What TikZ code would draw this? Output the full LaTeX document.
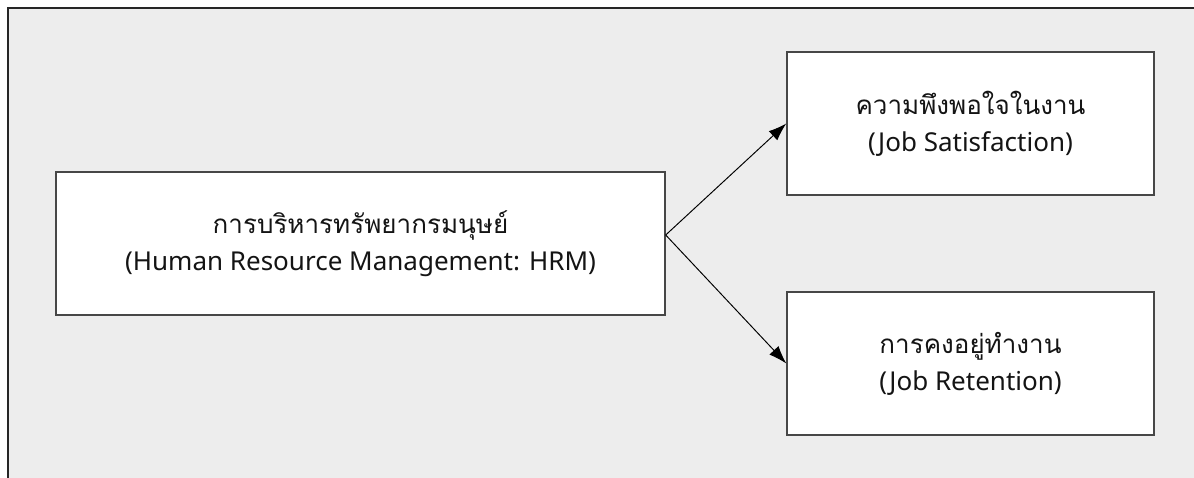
\documentclass[tikz,border=0pt]{standalone}
\usepackage{fontspec}
\setmainfont{Noto Sans}
\newfontfamily\thaifont[Script=Thai]{Loma}
\usepackage{tikz}
\usetikzlibrary{positioning, calc, arrows.meta}

\newcommand{\thline}[1]{{\thaifont\fontsize{14.8pt}{21pt}\selectfont #1}}
\newcommand{\tightlines}{\lineskiplimit=-30pt\relax}

\begin{document}
\begin{tikzpicture}[
    >=latex,
    blk/.style={draw=black!72, fill=white, line width=0.8pt, align=center, inner sep=4pt,
                font=\fontsize{14.8pt}{21pt}\selectfont\tightlines, text=black!92,
                minimum height=2.86cm},
    srcblk/.style={blk, minimum width=12.18cm},
    tgtblk/.style={blk, minimum width=7.34cm},
    flow/.style={-{Latex[length=0.36cm, width=0.25cm]}, line width=0.55pt},
    frame/.style={draw=black!85, line width=0.6pt},
]

% ─── Canvas ───
\useasboundingbox (0, 0) rectangle (23.88, 9.56);
\fill[white] (0, 0) rectangle (23.88, 9.56);
\fill[black!7] (0.16, 0) rectangle (23.88, 9.40);
\draw[frame] (0.16, 0) -- (0.16, 9.40) -- (23.88, 9.40);

% ─── Source: HRM ───
\node[srcblk] at (7.21, 4.69) (hrm) {\thline{การบริหารทรัพยากรมนุษย์}\\(Human Resource Management: HRM)};

% ─── Targets ───
\node[tgtblk] at (19.41, 7.09) (satis)  {\thline{ความพึงพอใจในงาน}\\(Job Satisfaction)};
\node[tgtblk] at (19.41, 2.29) (retain) {\thline{การคงอยู่ทำงาน}\\(Job Retention)};

% ─── Flows ───
\coordinate (fork) at ([yshift=0.17cm]hrm.east);
\draw[flow] (fork) -- (satis.west);
\draw[flow] (fork) -- (retain.west);

\end{tikzpicture}
\end{document}
